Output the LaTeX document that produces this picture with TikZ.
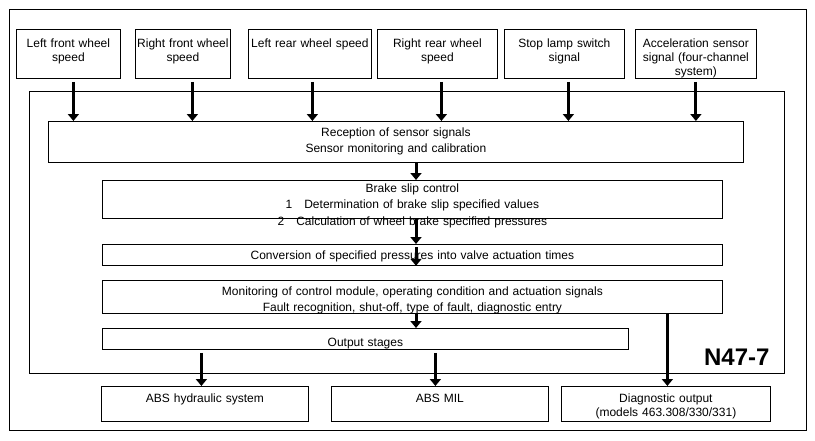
\documentclass[tikz,border=0pt]{standalone}
\usepackage{fontspec}
\setmainfont{Liberation Sans}
\usetikzlibrary{arrows.meta, positioning, calc}

\tikzset{
  box/.style={draw, line width=0.8pt, align=center, inner xsep=0pt, inner ysep=0pt,
    anchor=north west, font=\fontsize{12}{14}\selectfont},
  stage/.style={box, font=\fontsize{12}{16}\selectfont},
  flow/.style={line width=3pt, -{Triangle[width=11pt,length=7pt]}},
}

\begin{document}
\begin{tikzpicture}[x=1pt,y=-1pt]
\useasboundingbox (0,0) rectangle (815,440);
% outer frame and control module
\draw[line width=0.8pt] (9,9) rectangle (806,430);
\node[draw, line width=0.8pt, anchor=north west, minimum width=755pt, minimum height=282pt, inner sep=0pt] (ecu) at (29,91) {};
\node[anchor=base east, font=\fontsize{24}{24}\selectfont\bfseries] (ecuname) at (773,365) {N47-7};

% sensor inputs
\node[box, text width=104pt, text height=18pt, text depth=31pt] (lfw) at (16,29) {Left front wheel\\speed};
\node[box, text width=95pt, text height=18pt, text depth=31pt] (rfw) at (135,29) {Right front wheel\\speed};
\node[box, text width=123pt, text height=18pt, text depth=31pt] (lrw) at (248,29) {Left rear wheel speed};
\node[box, text width=120pt, text height=18pt, text depth=31pt] (rrw) at (377,29) {Right rear wheel\\speed};
\node[box, text width=120pt, text height=18pt, text depth=31pt] (sls) at (504,29) {Stop lamp switch\\signal};
\node[box, text width=121pt, text height=18pt, text depth=31pt] (acc) at (635,29) {Acceleration sensor\\signal (four-channel\\system)};

% processing stages
\node[stage, text width=695pt, text height=15pt, text depth=26pt] (recv) at (48,121) {Reception of sensor signals\\Sensor monitoring and calibration};
\node[stage, text width=620pt, text height=12pt, text depth=26pt, font=\fontsize{12}{16.5}\selectfont] (slip) at (102,180) {Brake slip control\\1\quad Determination of brake slip specified values\\2\quad Calculation of wheel brake specified pressures};
\node[stage, text width=620pt, text height=15pt, text depth=6pt] (conv) at (102,244) {Conversion of specified pressures into valve actuation times};
\node[stage, text width=620pt, text height=15pt, text depth=18pt] (mon) at (102,280) {Monitoring of control module, operating condition and actuation signals\\Fault recognition, shut-off, type of fault, diagnostic entry};
\node[stage, text width=526pt, text height=18pt, text depth=3pt] (out) at (102,328) {Output stages};

% outputs
\node[box, text width=207pt, text height=16pt, text depth=19pt] (hyd) at (101,386) {ABS hydraulic system};
\node[box, text width=217pt, text height=16pt, text depth=19pt] (mil) at (331,386) {ABS MIL};
\node[box, text width=209pt, text height=16pt, text depth=19pt] (diag) at (561,386) {Diagnostic output\\(models 463.308/330/331)};

\coordinate (spine) at (416,0);

% connectors
\foreach \s/\dx in {lfw/5pt, rfw/9.5pt, lrw/2.5pt, rrw/4pt, sls/4pt, acc/0pt}
  \draw[flow, shorten <=3pt] ([xshift=\dx]\s.south) -- ([xshift=\dx]\s.south |- recv.north);
\draw[flow] (recv.south -| spine) -- (slip.north -| spine);
\draw[flow] (slip.south -| spine) -- (conv.north -| spine);
\draw[flow] ([yshift=-3pt]conv.north -| spine) -- (conv.south -| spine);
\draw[flow] (mon.south -| spine) -- (out.north -| spine);
\draw[flow, shorten <=3pt] ([xshift=-3.5pt]hyd.north |- out.south) -- ([xshift=-3.5pt]hyd.north);
\draw[flow, shorten <=3pt] ([xshift=-4.5pt]mil.north |- out.south) -- ([xshift=-4.5pt]mil.north);
\draw[flow] ([xshift=1.5pt]diag.north |- mon.south) -- ([xshift=1.5pt]diag.north);
\end{tikzpicture}
\end{document}
